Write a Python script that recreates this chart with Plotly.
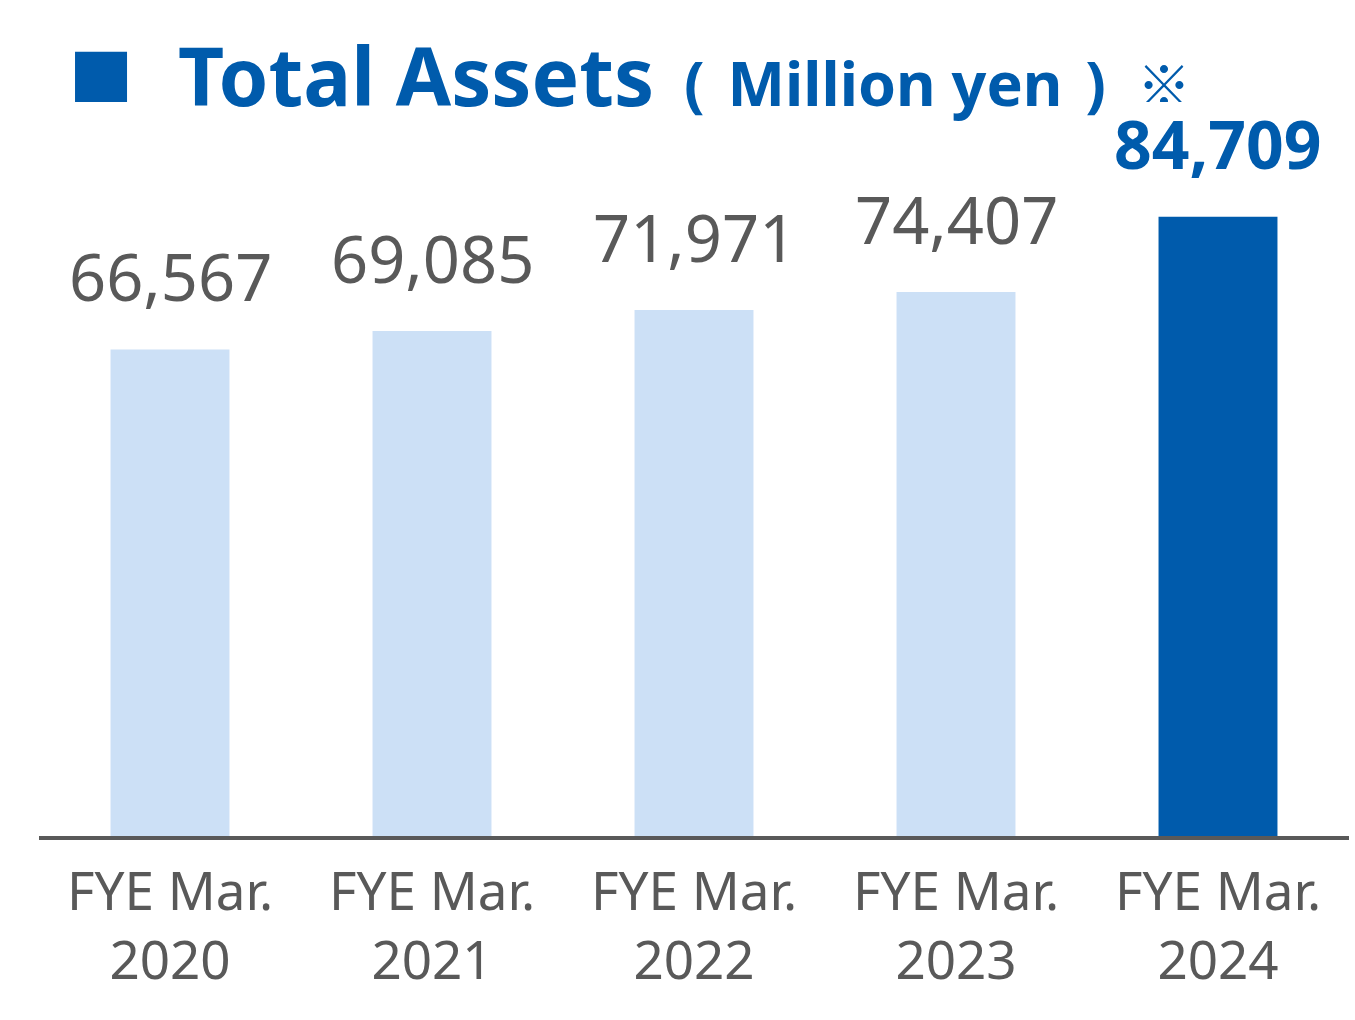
import plotly.graph_objects as go

categories = ["FYE Mar.<br>2020", "FYE Mar.<br>2021", "FYE Mar.<br>2022", "FYE Mar.<br>2023", "FYE Mar.<br>2024"]
values = [66567, 69085, 71971, 74407, 84709]
value_labels = ["66,567", "69,085", "71,971", "74,407", "84,709"]

BLUE = "#005BAC"
LIGHT = "#CCE0F6"
GRAY = "#595959"

colors = [LIGHT, LIGHT, LIGHT, LIGHT, BLUE]

fig = go.Figure(go.Bar(x=categories, y=values, marker=dict(color=colors, line=dict(width=0)),
                       hoverinfo="skip"))

annotations = []
for i, (c, v, t) in enumerate(zip(categories, values, value_labels)):
    last = i == len(values) - 1
    annotations.append(dict(
        x=c, y=v, xref="x", yref="y", text=(f"<b>{t}</b>" if last else t),
        showarrow=False, yanchor="bottom", xanchor="center", yshift=27,
        font=dict(family="Noto Sans", size=66 if last else 65, color=BLUE if last else GRAY),
    ))

SP = "<span style='font-size:88px'>&nbsp;</span>"
annotations += [
    dict(x=0.1045, y=0.8430, xref="paper", yref="paper", xanchor="left", yanchor="bottom",
         text="<b>Total Assets</b>", showarrow=False,
         font=dict(family="Noto Sans", size=80, color=BLUE)),
    dict(x=0.4910, y=0.8395, xref="paper", yref="paper", xanchor="left", yanchor="bottom",
         text=f"<b>({SP}Million yen{SP})</b>", showarrow=False,
         font=dict(family="Noto Sans", size=61, color=BLUE)),
    dict(x=0.8370, y=0.902, xref="paper", yref="paper", xanchor="left", yanchor="middle",
         text="※", showarrow=False, height=40,
         font=dict(family="Noto Sans CJK JP", size=54, color=BLUE)),
]

fig.update_layout(
    width=1355, height=1020,
    margin=dict(l=39, r=6, t=0, b=184),
    paper_bgcolor="white", plot_bgcolor="white",
    bargap=0.546,
    showlegend=False,
    annotations=annotations,
    shapes=[dict(type="rect", xref="paper", yref="paper", x0=0.0275, x1=0.0672, y0=0.878, y1=0.938,
                 fillcolor=BLUE, line=dict(width=0))],
    xaxis=dict(showline=True, linecolor=GRAY, linewidth=4, ticks="", showgrid=False,
               ticklabelstandoff=6,
               tickfont=dict(family="Noto Sans", size=53, color=GRAY), fixedrange=True),
    yaxis=dict(visible=False, range=[0, 114364], showgrid=False, zeroline=False, fixedrange=True),
)

fig.write_html("out.html")
